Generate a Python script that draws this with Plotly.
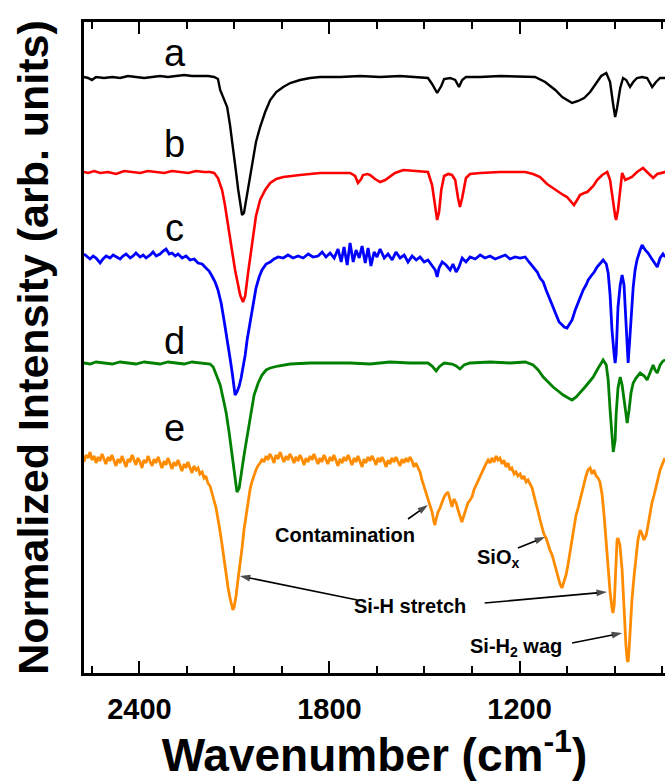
import plotly.graph_objects as go

# ---------------- data (wavenumber in cm^-1, intensity relative to each baseline, arb. units) ----------------
wn_a = [2575, 2562, 2550, 2537, 2512, 2486, 2461, 2436, 2411, 2385, 2360, 2335, 2310, 2284, 2259, 2234, 2208, 2183,
        2164, 2152, 2145, 2123, 2114, 2104, 2095, 2088, 2082, 2076, 2070, 2063, 2057, 2047, 2041, 2032, 2019, 2003,
        1987, 1968, 1946, 1924, 1893, 1861, 1830, 1766, 1703, 1640, 1577, 1514, 1489, 1476, 1460, 1447, 1438, 1419,
        1403, 1391, 1381, 1369, 1324, 1261, 1198, 1151, 1119, 1087, 1065, 1046, 1034, 1015, 996, 977, 958, 942, 926,
        914, 904, 898, 892, 882, 873, 863, 851, 841, 829, 813, 797, 781, 769, 756, 740]
int_a = [-1, -2, -4, -1, -2, -1, -2, 0, -1, -2, -1, 0, -1, 0, 1, 0, 0, 0, -1, -3, -14, -31, -49, -71, -96, -114, -129,
         -139, -137, -124, -114, -94, -81, -66, -51, -36, -24, -16, -11, -7, -4, -2, -1, -1, 0, -1, 0, -1, -2, -8, -17,
         -10, -3, -2, -4, -11, -4, -1, -1, 0, -1, -1, -6, -14, -21, -25, -27, -25, -22, -16, -7, 0, 3, -6, -29, -41,
         -32, -12, -2, -4, -11, -6, -2, -1, -2, -11, -6, -2, -2]

wn_b = [2575, 2562, 2543, 2524, 2499, 2474, 2448, 2423, 2398, 2373, 2347, 2322, 2297, 2272, 2246, 2221, 2196, 2177,
        2164, 2152, 2139, 2130, 2120, 2107, 2098, 2088, 2082, 2073, 2066, 2057, 2047, 2041, 2032, 2019, 2003, 1987,
        1968, 1946, 1924, 1893, 1830, 1766, 1735, 1719, 1710, 1700, 1694, 1681, 1672, 1656, 1640, 1624, 1609, 1593,
        1567, 1530, 1489, 1476, 1466, 1460, 1454, 1447, 1438, 1425, 1413, 1403, 1394, 1388, 1381, 1369, 1356, 1324,
        1261, 1182, 1157, 1135, 1113, 1087, 1062, 1050, 1034, 1028, 1018, 1009, 996, 986, 967, 955, 939, 923, 914,
        904, 898, 895, 889, 882, 876, 866, 857, 845, 829, 810, 794, 778, 765, 756, 740]
int_b = [0, -1, 1, -1, 0, -2, 1, 0, -1, 1, 0, -1, 1, 0, -1, 1, 0, 0, -1, -6, -18, -33, -55, -80, -98, -115, -123, -130,
         -124, -101, -78, -61, -44, -28, -18, -11, -7, -5, -4, -3, -1, -1, -1, -4, -11, -7, -3, -2, -3, -7, -10, -8,
         -5, -1, 2, 1, 0, -13, -38, -48, -40, -18, -4, -2, -3, -8, -26, -35, -26, -6, -2, -1, 0, 0, -2, -5, -12, -18,
         -23, -25, -31, -33, -28, -23, -21, -20, -14, -8, -3, 0, -8, -33, -44, -48, -38, -18, -1, -8, -7, -5, 0, 4,
         -1, -6, -2, -1, 0]

wn_c = [2575, 2565, 2556, 2546, 2537, 2524, 2515, 2505, 2493, 2483, 2474, 2461, 2452, 2442, 2429, 2420, 2411, 2398,
        2388, 2379, 2366, 2357, 2347, 2335, 2325, 2316, 2306, 2297, 2287, 2278, 2265, 2253, 2240, 2227, 2215, 2202,
        2190, 2180, 2171, 2161, 2152, 2142, 2133, 2123, 2114, 2107, 2101, 2098, 2092, 2085, 2079, 2073, 2066, 2060,
        2051, 2041, 2032, 2022, 2013, 2000, 1987, 1975, 1962, 1946, 1931, 1915, 1899, 1883, 1867, 1852, 1836, 1823,
        1811, 1798, 1785, 1773, 1763, 1754, 1744, 1735, 1725, 1716, 1706, 1697, 1687, 1678, 1669, 1659, 1650, 1640,
        1627, 1615, 1602, 1590, 1577, 1564, 1552, 1539, 1526, 1514, 1501, 1489, 1476, 1466, 1460, 1454, 1444, 1432,
        1419, 1410, 1400, 1391, 1381, 1369, 1356, 1340, 1324, 1309, 1293, 1277, 1261, 1245, 1230, 1214, 1198, 1182,
        1170, 1157, 1144, 1135, 1125, 1116, 1106, 1097, 1087, 1081, 1075, 1065, 1059, 1050, 1040, 1034, 1024, 1015,
        1009, 999, 990, 983, 974, 964, 955, 945, 936, 926, 920, 914, 908, 901, 898, 895, 892, 889, 882, 876, 870, 863,
        860, 857, 851, 845, 841, 835, 829, 819, 813, 803, 794, 784, 775, 765, 756, 747, 740]
int_c = [1, -2, -4, -1, -3, -8, -4, -1, -3, 0, -2, -4, -1, 1, -3, -1, 2, -2, 0, -3, 0, 3, -1, 1, 4, 6, 1, 2, -1, 1,
         -3, -1, -5, -4, -8, -9, -13, -16, -21, -27, -35, -48, -65, -83, -103, -118, -133, -140, -137, -131, -123,
         -113, -100, -85, -67, -48, -33, -22, -15, -9, -7, -4, -2, -3, 0, -3, -1, -3, 1, -2, -1, 3, -2, 2, -3, 6, -7,
         8, -10, 12, -7, 5, -3, 9, -8, 7, -11, 3, -2, 6, -3, 1, -5, 3, -3, 0, -7, -1, -5, -2, -7, -5, -11, -15, -22,
         -13, -7, -10, -15, -9, -17, -12, -3, -7, -2, -4, 0, -3, -1, -4, -2, 0, -4, -2, -3, -2, -7, -12, -17, -23,
         -27, -35, -43, -50, -58, -62, -67, -70, -72, -73, -68, -65, -55, -47, -42, -35, -30, -25, -21, -17, -12, -8,
         -5, -9, -18, -40, -75, -100, -108, -100, -75, -52, -30, -20, -30, -75, -100, -108, -80, -45, -32, -15, -5, 5,
         10, 5, 2, -3, -7, -12, -3, 1, -2]

wn_d = [2575, 2556, 2537, 2512, 2486, 2461, 2436, 2411, 2385, 2360, 2335, 2310, 2284, 2259, 2234, 2208, 2190, 2177,
        2167, 2158, 2145, 2136, 2126, 2117, 2107, 2101, 2095, 2092, 2085, 2079, 2073, 2066, 2057, 2047, 2038, 2025,
        2013, 2000, 1987, 1962, 1924, 1861, 1798, 1735, 1672, 1609, 1545, 1489, 1476, 1463, 1454, 1438, 1413, 1400,
        1388, 1375, 1356, 1293, 1230, 1182, 1157, 1141, 1125, 1110, 1094, 1078, 1062, 1046, 1034, 1021, 1009, 993,
        980, 967, 955, 945, 936, 926, 920, 914, 908, 904, 898, 895, 889, 882, 876, 870, 863, 860, 854, 848, 841, 832,
        819, 806, 797, 788, 778, 772, 765, 756, 747, 740]
int_d = [0, -1, 1, 0, -1, 1, 0, -1, 1, 0, -1, 1, 0, -1, 1, 0, 0, -1, -4, -11, -22, -35, -50, -69, -92, -109, -124,
         -129, -125, -114, -99, -85, -67, -47, -32, -20, -12, -7, -5, -3, -1, 0, 0, 0, -1, 1, 0, 0, -3, -8, -4, 0, -1,
         -3, -6, -2, 0, 1, 0, 1, -2, -7, -14, -19, -24, -28, -32, -35, -37, -34, -30, -24, -19, -14, -7, -1, 3, -2,
         -17, -47, -77, -89, -77, -52, -25, -14, -22, -37, -55, -60, -47, -30, -20, -15, -10, -13, -17, -9, -2, -7,
         -10, -2, 2, 3]

wn_e = [2575, 2569, 2562, 2556, 2550, 2543, 2537, 2531, 2525, 2518, 2512, 2506, 2499, 2493, 2487, 2480, 2474, 2468,
        2461, 2455, 2449, 2442, 2436, 2430, 2423, 2417, 2411, 2405, 2398, 2392, 2386, 2379, 2373, 2367, 2360, 2354,
        2348, 2341, 2335, 2329, 2322, 2316, 2310, 2304, 2297, 2291, 2285, 2278, 2272, 2266, 2259, 2253, 2247, 2240,
        2234, 2228, 2221, 2215, 2209, 2202, 2196, 2190, 2184, 2177, 2171, 2165, 2158, 2152, 2146, 2139, 2133, 2127,
        2120, 2114, 2108, 2105,
        2101, 2095, 2089, 2082, 2076, 2070, 2063, 2057, 2051, 2045, 2038, 2032, 2026, 2019, 2013, 2007, 2000, 1994,
        1988, 1981, 1975, 1969, 1962, 1956, 1950, 1944, 1937, 1931, 1925, 1918, 1912, 1906, 1899, 1893, 1887, 1880,
        1874, 1868, 1861, 1855, 1849, 1842, 1836, 1830, 1824, 1817, 1811, 1805, 1798, 1792, 1786, 1779, 1773, 1767,
        1760, 1754, 1748, 1741, 1735, 1729, 1722, 1716, 1710, 1704, 1697, 1691, 1685, 1678, 1672, 1666, 1659, 1653,
        1647, 1640, 1634, 1628, 1621, 1615, 1609, 1603, 1596, 1590, 1584, 1577, 1571, 1565, 1558, 1552, 1546, 1539,
        1533, 1527, 1520, 1514, 1508, 1501, 1495, 1489, 1483, 1476, 1470, 1467,
        1464, 1457, 1451, 1445, 1438, 1432, 1426, 1419, 1413, 1407, 1400, 1394, 1388, 1382, 1375, 1369, 1363, 1356,
        1350, 1344, 1337, 1331, 1325, 1318, 1312, 1306, 1299, 1293, 1287, 1280, 1274, 1268, 1262, 1255, 1249, 1243,
        1236, 1230, 1224, 1217, 1211, 1205, 1198, 1192, 1186, 1179, 1173, 1167, 1160, 1154, 1148, 1141, 1135, 1129,
        1123, 1116, 1110, 1104, 1097, 1091, 1085, 1078, 1072, 1066, 1059, 1053, 1047, 1040, 1034, 1028, 1022, 1015,
        1009, 1003, 996, 990, 984, 977, 971, 965, 958, 952, 946, 939, 933, 927, 920, 914, 908,
        905, 901, 898, 895, 892, 889, 883, 876, 870, 864, 860, 857, 854, 851,
        845, 838, 832, 826, 819, 813, 807, 800, 794, 788, 782, 775, 769, 763, 756, 750, 744, 741]
int_e = [-4, 3, 0, 6, -2, 2, -5, 1, -3, 4, -1, -6, 1, -3, 3, -2, -8, -1, -5, 2, -3, -9, -1, -4, 3, -2, -7, 0, -4, -10,
         -2, -5, 2, -3, -8, -1, -5, 1, -4, -10, -3, -7, 0, -5, -11, -4, -8, -2, -7, -13, -6, -10, -4, -9, -15, -8, -12,
         -10, -16, -14, -20, -18, -25, -28, -34, -42, -50, -60, -72, -87, -102, -117, -130, -140, -148, -152,
         -149, -138, -122, -107, -90, -72, -57, -42, -32, -24, -17, -12, -8, -5, -1, -4, 2, -2, 4, 0, -5, 3, -1, 6, 1,
         -4, 2, -2, 4, 0, -5, 1, -3, 3, -1, -7, 0, -4, 2, -2, 4, -1, -6, 0, -4, 3, -1, -6, 1, -3, 3, -2, -8, -1, -5,
         1, -3, 3, -2, -7, 0, -4, 2, -3, -9, -1, -5, 1, -3, 2, -2, -7, 0, -4, 1, -3, -9, -2, -6, 0, -4, 1, -3, -8, -1,
         -5, 0, -4, 1, -3, -9, -5, -10, -14, -22, -29, -36, -42, -47, -54, -64, -67,
         -62, -54, -50, -44, -39, -36, -34, -42, -49, -41, -45, -52, -58, -64, -57, -50, -45, -42, -39, -32, -27, -22,
         -18, -14, -10, -6, -2, -5, 0, -4, 2, -2, 0, -6, -2, -9, -5, -12, -10, -16, -14, -18, -16, -21, -18, -24, -22,
         -26, -30, -38, -47, -54, -62, -70, -76, -80, -87, -92, -97, -104, -112, -120, -126, -130, -124, -117, -107,
         -94, -82, -70, -58, -50, -42, -34, -27, -18, -12, -10, -16, -12, -18, -20, -24, -37, -57, -82, -110, -134,
         -150,
         -155, -147, -122, -97, -82, -80, -87, -112, -152, -187, -202, -204, -192, -170,
         -142, -117, -97, -82, -72, -76, -82, -77, -67, -54, -45, -37, -28, -20, -12, -7, -2, 0]

labels = ["a", "b", "c", "d", "e"]
offsets = [597, 501, 418, 310, 215]          # vertical stacking offsets (arb. units)
colors = ["#000000", "#ff0000", "#0000ff", "#008000", "#ff8c00"]
widths = [2.4, 2.6, 2.8, 2.8, 2.8]
x_ticks = [2400, 1800, 1200]

spectra = [(wn_a, int_a), (wn_b, int_b), (wn_c, int_c), (wn_d, int_d), (wn_e, int_e)]
for w, v in spectra:
    assert len(w) == len(v), (len(w), len(v))

FONT = "Arial, Liberation Sans, sans-serif"

fig = go.Figure()
for (w, v), off, col, lw, lab in zip(spectra, offsets, colors, widths, labels):
    fig.add_trace(go.Scatter(x=w, y=[off + i for i in v], mode="lines", name=lab,
                             line=dict(color=col, width=lw), showlegend=False, hoverinfo="skip"))

# arrows pointing from peak assignments to the bands: (tail_x, tail_y, head_x, head_y)
arrows = [
    (1552, 154, 1489, 168),   # Contamination
    (1205, 125, 1119, 136),   # SiOx
    (1712, 73, 2083, 97),     # Si-H stretch (left)
    (1310, 70, 924, 81),      # Si-H stretch (right)
    (1034, 30, 876, 40),      # Si-H2 wag
]
for tx, ty, hx, hy in arrows:
    fig.add_trace(go.Scatter(
        x=[tx, hx], y=[ty, hy], mode="lines+markers", showlegend=False, hoverinfo="skip",
        line=dict(color="black", width=1.6),
        marker=dict(symbol=["circle", "arrow"], size=[0, 11], angleref="previous",
                    color="black", line=dict(width=0)),
    ))

annotations = []
# curve labels a-e
label_y = [620, 529, 445, 332, 245]
for lab, ly in zip(labels, label_y):
    annotations.append(dict(x=2288, y=ly, xref="x", yref="y", text=lab, showarrow=False,
                            xanchor="center", yanchor="middle",
                            font=dict(family=FONT, size=38, color="black")))

bold = dict(family=FONT, size=20, color="black", weight="bold")
annotations += [
    dict(x=1751, y=138, xref="x", yref="y", text="Contamination", showarrow=False, font=bold),
    dict(x=1268, y=115, xref="x", yref="y", text="SiO<sub>x</sub>", showarrow=False, font=bold),
    dict(x=1545, y=67, xref="x", yref="y", text="Si-H stretch", showarrow=False, font=bold),
    dict(x=1211, y=26, xref="x", yref="y", text="Si-H<sub>2</sub> wag", showarrow=False, font=bold),
]

fig.update_layout(
    width=665, height=781,
    margin=dict(l=84, r=0, t=22, b=108),
    paper_bgcolor="white", plot_bgcolor="white",
    font=dict(family=FONT, color="black"),
    annotations=annotations,
    xaxis=dict(
        range=[2575, 740.6], showgrid=False, zeroline=False,
        showline=True, linecolor="black", linewidth=2.5, mirror="ticks",
        ticks="inside", ticklen=12, tickwidth=2, tickcolor="black",
        tickvals=x_ticks, ticktext=[str(t) for t in x_ticks],
        tickfont=dict(family=FONT, size=29, color="black", weight="bold"),
        ticklabelstandoff=8,
        minor=dict(dtick=150, tick0=0, ticks="inside", ticklen=7, tickwidth=2, tickcolor="black"),
        title=dict(text="Wavenumber (cm<sup>-1</sup>)", standoff=8,
                   font=dict(family=FONT, size=46, color="black", weight="bold")),
    ),
    yaxis=dict(
        range=[0, 651], showgrid=False, zeroline=False,
        showline=True, linecolor="black", linewidth=2.5, mirror=False,
        ticks="", showticklabels=False,
        title=dict(text="Normalized Intensity (arb. units)", standoff=20,
                   font=dict(family=FONT, size=43, color="black", weight="bold")),
    ),
)

fig.write_html("out.html")
